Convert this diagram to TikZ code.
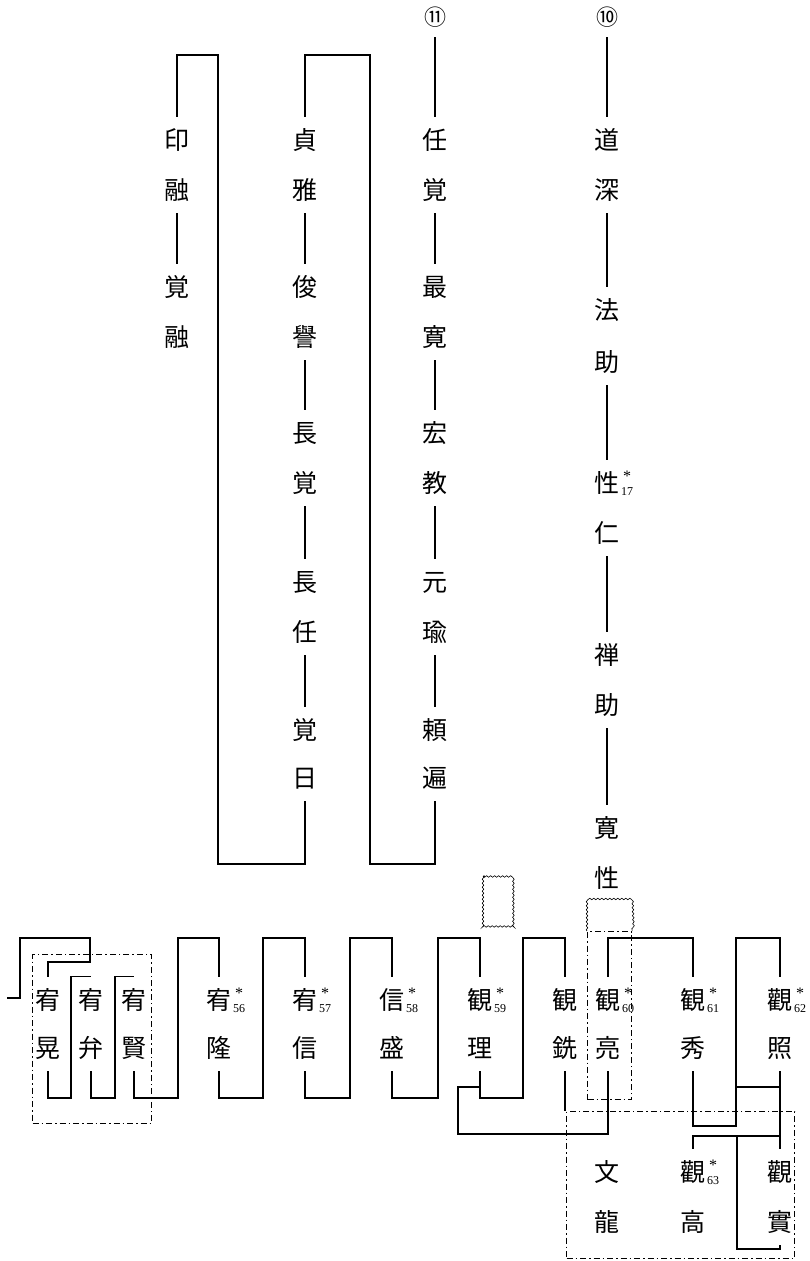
\documentclass[tikz,border=0pt]{standalone}
\usepackage{fontspec}
\newfontfamily\cjk{Noto Sans CJK JP}
\newfontfamily\nfont{Liberation Serif}
\usetikzlibrary{decorations.pathmorphing}
\newcommand\sn[1]{\rlap{\kern3.5pt\raisebox{11pt}{\nfont\fontsize{16}{16}\selectfont *}}\rlap{\kern1.5pt\raisebox{-3pt}{\nfont\fontsize{12}{12}\selectfont #1}}}
\tikzset{
  ch/.style={font=\cjk\fontsize{25}{25}\selectfont, inner sep=0pt, minimum height=46pt, text height=22pt, text depth=3pt},
  cn/.style={font=\cjk\fontsize{22}{22}\selectfont, inner sep=0pt, minimum height=40pt, text height=19.4pt, text depth=2.6pt},
  ln/.style={line width=1.2pt},
  ddot/.style={line width=1.1pt, dash pattern=on 6pt off 3pt on 1.5pt off 3pt},
  wavy/.style={line width=0.6pt, decorate, decoration={snake, amplitude=0.8pt, segment length=4pt}},
}
\begin{document}
\begin{tikzpicture}[x=1pt,y=-1pt]
\useasboundingbox (0,0) rectangle (810,1261);
% ---------- top columns ----------
\node[ch] (in1) at (177,140) {印};
\node[ch] (in2) at (177,190) {融};
\node[ch] (ky1) at (177,287) {覚};
\node[ch] (ky2) at (177,337) {融};

\node[ch] (te1) at (305,140) {貞};
\node[ch] (te2) at (305,190) {雅};
\node[ch] (sy1) at (305,287) {俊};
\node[ch] (sy2) at (305,337) {譽};
\node[ch] (cb1) at (305,433) {長};
\node[ch] (cb2) at (305,483) {覚};
\node[ch] (cr1) at (305,582) {長};
\node[ch] (cr2) at (305,632) {任};
\node[ch] (kn1) at (305,730) {覚};
\node[ch] (kn2) at (305,778) {日};

\node[cn] (c11) at (435,17) {⑪};
\node[ch] (nk1) at (435,140) {任};
\node[ch] (nk2) at (435,190) {覚};
\node[ch] (sk1) at (435,287) {最};
\node[ch] (sk2) at (435,337) {寛};
\node[ch] (kk1) at (435,433) {宏};
\node[ch] (kk2) at (435,483) {教};
\node[ch] (gy1) at (435,582) {元};
\node[ch] (gy2) at (435,632) {瑜};
\node[ch] (rh1) at (435,730) {頼};
\node[ch] (rh2) at (435,778) {遍};

\node[cn] (c10) at (607,17) {⑩};
\node[ch] (ds1) at (607,140) {道};
\node[ch] (ds2) at (607,190) {深};
\node[ch] (hj1) at (607,310) {法};
\node[ch] (hj2) at (607,362) {助};
\node[ch] (sj1) at (607,483) {性\sn{17}};
\node[ch] (sj2) at (607,533) {仁};
\node[ch] (zj1) at (607,655) {禅};
\node[ch] (zj2) at (607,705) {助};
\node[ch] (ks1) at (607,828) {寛};
\node[ch] (ks2) at (607,878) {性};

\draw[ln] (in2.south) -- (ky1.north);
\draw[ln] (te2.south) -- (sy1.north);
\draw[ln] (sy2.south) -- (cb1.north);
\draw[ln] (cb2.south) -- (cr1.north);
\draw[ln] (cr2.south) -- (kn1.north);
\draw[ln] (c11.south) -- (nk1.north);
\draw[ln] (nk2.south) -- (sk1.north);
\draw[ln] (sk2.south) -- (kk1.north);
\draw[ln] (kk2.south) -- (gy1.north);
\draw[ln] (gy2.south) -- (rh1.north);
\draw[ln] (c10.south) -- (ds1.north);
\draw[ln] (ds2.south) -- (hj1.north);
\draw[ln] (hj2.south) -- (sj1.north);
\draw[ln] (sj2.south) -- (zj1.north);
\draw[ln] (zj2.south) -- (ks1.north);
\draw[ln] (in1.north) |- (218,55) |- (kn2.south |- 0,864) -- (kn2.south);
\draw[ln] (te1.north) |- (370,55) |- (rh2.south |- 0,864) -- (rh2.south);

% ---------- bottom row ----------
\node[ch] (ko1) at (48,1000) {宥};
\node[ch] (ko2) at (48,1048) {晃};
\node[ch] (be1) at (91,1000) {宥};
\node[ch] (be2) at (91,1048) {弁};
\node[ch] (ke1) at (134,1000) {宥};
\node[ch] (ke2) at (134,1048) {賢};
\node[ch] (ry1) at (219,1000) {宥\sn{56}};
\node[ch] (ry2) at (219,1048) {隆};
\node[ch] (ys1) at (305,1000) {宥\sn{57}};
\node[ch] (ys2) at (305,1048) {信};
\node[ch] (ss1) at (392,1000) {信\sn{58}};
\node[ch] (ss2) at (392,1048) {盛};
\node[ch] (ri1) at (480,1000) {観\sn{59}};
\node[ch] (ri2) at (480,1048) {理};
\node[ch] (se1) at (565,1000) {観};
\node[ch] (se2) at (565,1048) {銑};
\node[ch] (ra1) at (608,1000) {観\sn{60}};
\node[ch] (ra2) at (608,1048) {亮};
\node[ch] (sh1) at (693,1000) {観\sn{61}};
\node[ch] (sh2) at (693,1048) {秀};
\node[ch] (so1) at (780,1000) {觀\sn{62}};
\node[ch] (so2) at (780,1048) {照};
\node[ch] (br1) at (607,1172) {文};
\node[ch] (br2) at (607,1222) {龍};
\node[ch] (ta1) at (693,1172) {觀\sn{63}};
\node[ch] (ta2) at (693,1222) {高};
\node[ch] (ji1) at (780,1172) {觀};
\node[ch] (ji2) at (780,1222) {實};

% boxes
\node[draw, ddot, anchor=north west, minimum width=119pt, minimum height=169pt, inner sep=0pt] (bx1) at (32,954) {};
\node[draw, ddot, anchor=north west, minimum width=228pt, minimum height=147pt, inner sep=0pt] (bx2) at (566,1111) {};
\node[draw, ddot, anchor=north west, minimum width=44pt, minimum height=168pt, inner sep=0pt] (bx3) at (587,931) {};
\draw[wavy] (483,876) rectangle (514,927);
\draw[wavy] (bx3.north west) -- (587,900) -- (631,900) -- (bx3.north east);

% connectors
\coordinate (lead) at (7,998);
\draw[ln] (lead) -- (20,998) |- (90,938) |- (ko1.north |- 0,962) -- (ko1.north);
\draw[ln] (ko2.south) |- (71,1098) |- (be1.north);
\draw[ln] (be2.south) |- (115,1098) |- (ke1.north);
\draw[ln] (ke2.south) |- (178,1098) |- (ry1.north |- 0,938) -- (ry1.north);
\draw[ln] (ry2.south) |- (263,1098) |- (ys1.north |- 0,938) -- (ys1.north);
\draw[ln] (ys2.south) |- (350,1098) |- (ss1.north |- 0,938) -- (ss1.north);
\draw[ln] (ss2.south) |- (438,1098) |- (ri1.north |- 0,938) -- (ri1.north);
\draw[ln] (ri2.south) |- (523,1098) |- (se1.north |- 0,938) -- (se1.north);
\draw[ln] (ri2.south |- 0,1087) -| (458,1134) -| (ra2.south);
\draw[ln] (se2.south) -- (se2.south |- bx2.north);
\draw[ln] (ra1.north) |- (sh1.north |- 0,938) -- (sh1.north);
\draw[ln] (sh2.south) |- (736,1126) |- (so1.north |- 0,938) -- (so1.north);
\draw[ln] (736,1087) -- (so2.south |- 0,1087);
\draw[ln] (so2.south) -- (ji1.north);
\draw[ln] (ta1.north) |- (so2.south |- 0,1136);
\draw[ln] (737,1136) |- (ji2.south |- 0,1249) -- (ji2.south);
\end{tikzpicture}
\end{document}
